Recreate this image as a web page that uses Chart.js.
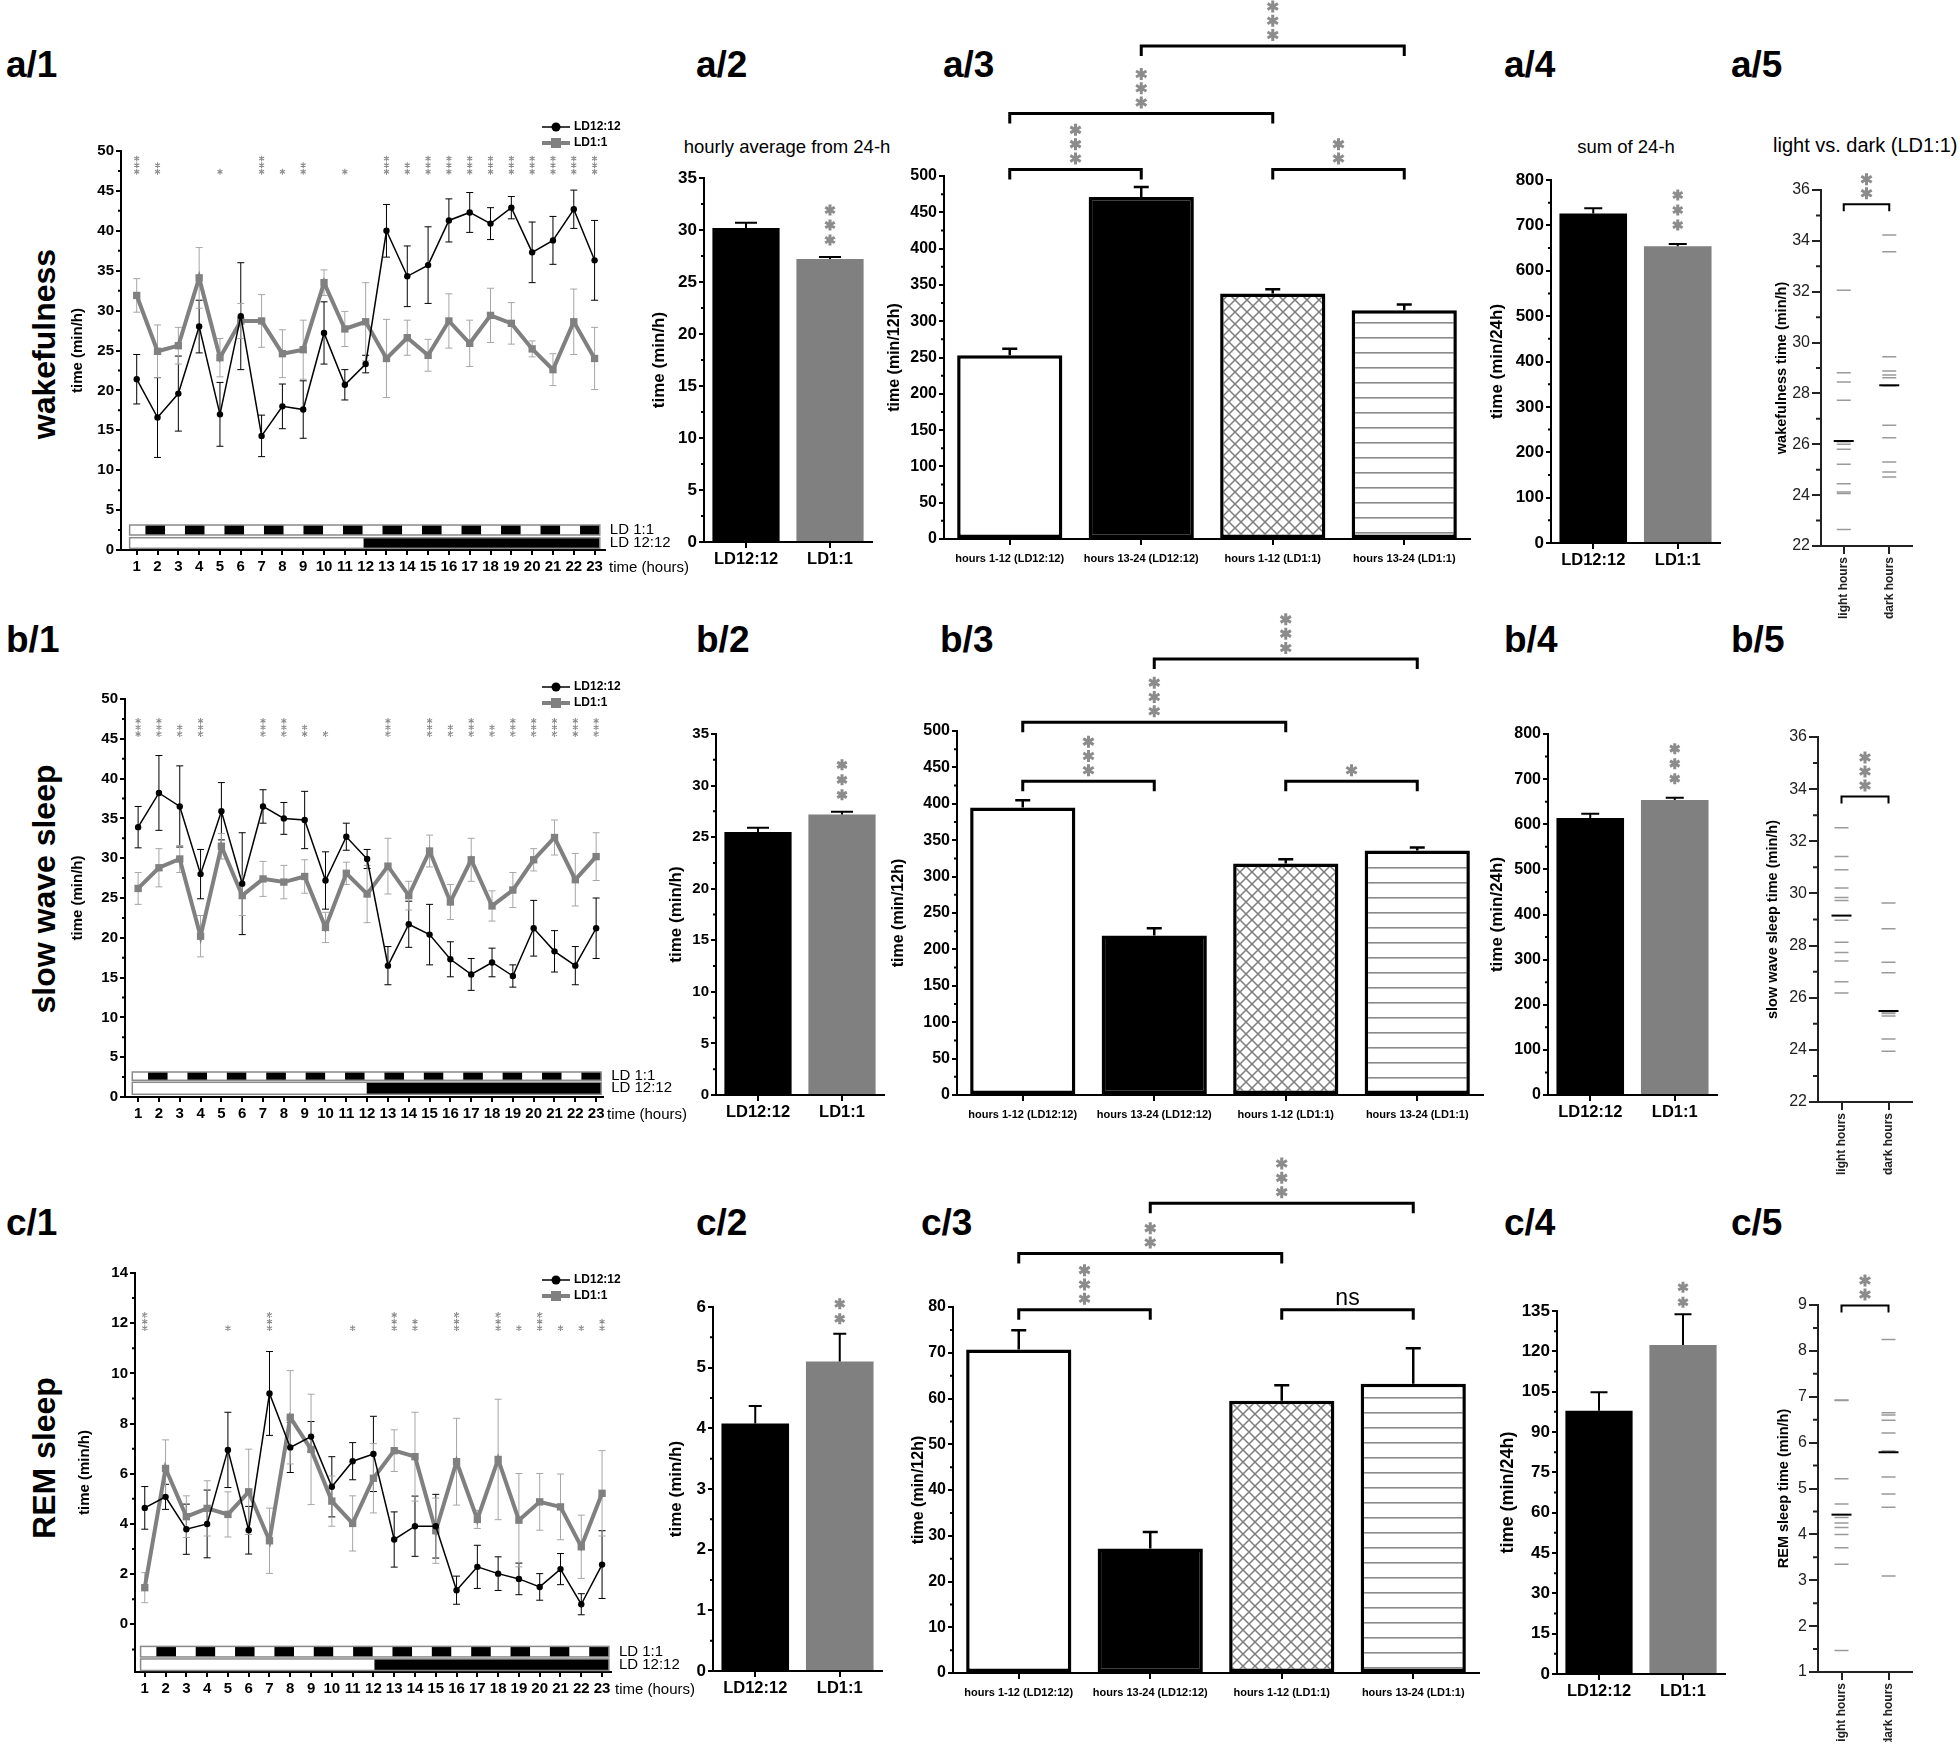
<!DOCTYPE html>
<html>
<head>
<meta charset="utf-8">
<title>Sleep-wake under LD12:12 and LD1:1</title>
<script src="https://cdn.jsdelivr.net/npm/chart.js@4.4.1/dist/chart.umd.min.js"></script>
<style>
  body { margin: 0; width: 1960px; height: 1745px; background: #fff; position: relative; overflow: hidden;
         font-family: 'Liberation Sans', Arial, sans-serif; }
  canvas { position: absolute; }
  .pl { position: absolute; font-weight: bold; font-size: 37px; line-height: 37px; white-space: nowrap; }
  .rl { position: absolute; font-weight: bold; font-size: 32px; line-height: 32px; white-space: nowrap;
        transform: translate(-50%, -50%) rotate(-90deg); }
  .tt { position: absolute; font-size: 18.5px; line-height: 18.5px; white-space: nowrap; }
</style>
</head>
<body>
<div class="pl" style="left:6px;top:46px">a/1</div>
<div class="pl" style="left:696px;top:46px">a/2</div>
<div class="pl" style="left:943px;top:46px">a/3</div>
<div class="pl" style="left:1504px;top:46px">a/4</div>
<div class="pl" style="left:1731px;top:46px">a/5</div>
<div class="pl" style="left:6px;top:621px">b/1</div>
<div class="pl" style="left:696px;top:621px">b/2</div>
<div class="pl" style="left:940px;top:621px">b/3</div>
<div class="pl" style="left:1504px;top:621px">b/4</div>
<div class="pl" style="left:1731px;top:621px">b/5</div>
<div class="pl" style="left:6px;top:1204px">c/1</div>
<div class="pl" style="left:696px;top:1204px">c/2</div>
<div class="pl" style="left:921px;top:1204px">c/3</div>
<div class="pl" style="left:1504px;top:1204px">c/4</div>
<div class="pl" style="left:1731px;top:1204px">c/5</div>

<div class="rl" style="left:44px;top:344px">wakefulness</div>
<div class="rl" style="left:44px;top:889px">slow wave sleep</div>
<div class="rl" style="left:44px;top:1458px">REM sleep</div>

<div class="tt" style="left:787px;top:138px;transform:translateX(-50%)">hourly average from 24-h</div>
<div class="tt" style="left:1626px;top:138px;transform:translateX(-50%)">sum of 24-h</div>
<div class="tt" style="left:1773px;top:136px;font-size:20px">light vs. dark (LD1:1)</div>

<script>
// ---------- data ----------
const hours = [1, 2, 3, 4, 5, 6, 7, 8, 9, 10, 11, 12, 13, 14, 15, 16, 17, 18, 19, 20, 21, 22, 23];
const groups2 = ['LD12:12', 'LD1:1'];
const groups4 = ['hours 1-12 (LD12:12)', 'hours 13-24 (LD12:12)', 'hours 1-12 (LD1:1)', 'hours 13-24 (LD1:1)'];
const dotCats = ['light hours', 'dark hours'];
const remTicks = [0, 2, 4, 6, 8, 10, 12, 14];

// wakefulness, hourly
const wakeLD12 = [21.4, 16.6, 19.6, 28.0, 17.0, 29.3, 14.3, 18.0, 17.6, 27.2, 20.7, 23.3, 40.0, 34.3, 35.7, 41.3, 42.3, 40.9, 42.9, 37.3, 38.8, 42.7, 36.3];
const wakeLD12Err = [3.1, 5.0, 4.7, 3.3, 4.0, 6.7, 2.6, 2.8, 3.6, 3.9, 1.9, 1.1, 3.3, 3.8, 4.8, 2.7, 2.5, 2.0, 1.4, 3.8, 3.0, 2.4, 5.0];
const wakeLD1 = [31.9, 24.9, 25.6, 34.1, 24.1, 28.7, 28.7, 24.6, 25.1, 33.5, 27.7, 28.6, 24.0, 26.6, 24.4, 28.7, 25.9, 29.4, 28.4, 25.2, 22.6, 28.6, 24.0];
const wakeLD1Err = [2.1, 3.3, 2.3, 3.8, 2.4, 2.2, 3.3, 3.0, 3.7, 1.6, 2.2, 4.9, 4.9, 2.2, 2.0, 3.4, 2.9, 3.4, 2.6, 1.0, 2.0, 4.1, 3.9];
const wakeSig = ['***', '**', '', '', '*', '', '***', '*', '**', '', '*', '', '***', '**', '***', '***', '***', '***', '***', '***', '***', '***', '***'];

// slow wave sleep, hourly
const swsLD12 = [33.9, 38.2, 36.5, 28.0, 35.9, 26.8, 36.5, 35.0, 34.8, 27.2, 32.7, 29.9, 16.5, 21.7, 20.4, 17.3, 15.4, 16.9, 15.2, 21.2, 18.3, 16.5, 21.2];
const swsLD12Err = [2.6, 4.7, 5.1, 3.1, 3.6, 6.4, 2.1, 2.0, 3.6, 3.6, 1.7, 1.2, 2.4, 2.9, 3.8, 2.2, 2.0, 1.8, 1.4, 3.5, 2.6, 2.4, 3.8];
const swsLD1 = [26.2, 28.8, 29.9, 20.2, 31.5, 25.3, 27.4, 27.0, 27.7, 21.3, 28.1, 25.5, 29.0, 25.3, 30.9, 24.5, 29.8, 24.0, 26.0, 29.8, 32.6, 27.3, 30.2];
const swsLD1Err = [2.0, 2.4, 1.7, 2.6, 1.6, 2.5, 2.2, 2.1, 2.1, 1.9, 1.4, 3.6, 3.5, 1.8, 2.0, 2.2, 2.7, 1.9, 2.2, 1.4, 2.2, 3.3, 3.0];
const swsSig = ['***', '***', '**', '***', '', '', '***', '***', '**', '*', '', '', '***', '', '***', '**', '***', '**', '***', '***', '***', '***', '***'];

// REM sleep, hourly
const remLD12 = [4.64, 5.08, 3.79, 4.0, 6.95, 3.75, 9.2, 7.05, 7.48, 5.48, 6.5, 6.79, 3.38, 3.91, 3.91, 1.36, 2.29, 2.02, 1.81, 1.49, 2.2, 0.8, 2.38];
const remLD12Err = [0.85, 0.5, 1.0, 1.35, 1.5, 0.95, 1.67, 1.0, 0.6, 1.2, 0.74, 1.5, 1.1, 1.2, 1.27, 0.56, 0.86, 0.67, 0.63, 0.53, 0.62, 0.42, 1.35];
const remLD1 = [1.46, 6.21, 4.29, 4.62, 4.38, 5.28, 3.33, 8.25, 6.97, 4.91, 4.02, 5.82, 6.92, 6.68, 3.73, 6.48, 4.18, 6.57, 4.15, 4.88, 4.68, 3.09, 5.22];
const remLD1Err = [0.6, 1.14, 0.83, 1.1, 0.9, 1.7, 1.3, 1.86, 2.2, 1.0, 1.1, 1.38, 0.83, 1.77, 1.3, 1.73, 0.36, 2.4, 1.86, 1.13, 1.31, 1.26, 1.7];
const remSig = ['***', '', '', '', '*', '', '***', '', '', '', '*', '', '***', '**', '', '***', '', '***', '*', '***', '*', '*', '**'];

// hourly averages, 12-h halves, 24-h sums
const wakeHourly = [30.2, 27.2], wakeHourlyErr = [0.5, 0.2];
const wakeHalf = [253, 471, 338, 315], wakeHalfErr = [9, 14, 6, 8];
const wakeSum = [726, 654], wakeSumErr = [12, 5];
const swsHourly = [25.5, 27.2], swsHourlyErr = [0.4, 0.25];
const swsHalf = [395, 219, 318, 336], swsHalfErr = [10, 10, 6, 4];
const swsSum = [614, 654], swsSumErr = [9, 5];
const remHourly = [4.08, 5.1], remHourlyErr = [0.29, 0.46];
const remHalf = [70.7, 27.2, 59.5, 63.2], remHalfErr = [4.2, 3.6, 3.4, 7.8];
const remSum = [97.9, 122.4], remSumErr = [6.9, 11.4];

// significance brackets: [from, to, level, label]
const wakeBrackets = [[0, 1, 509, '***'], [2, 3, 509, '**'], [0, 2, 586, '***'], [1, 3, 679, '***']];
const swsBrackets = [[0, 1, 431, '***'], [2, 3, 431, '*'], [0, 2, 512, '***'], [1, 3, 599, '***']];
const remBrackets = [[0, 1, 79.4, '***'], [2, 3, 79.4, 'ns'], [0, 2, 91.7, '**'], [1, 3, 102.7, '***']];

// LD1:1 individual hours, light vs dark
const wakeLight = [32.06, 28.81, 28.45, 27.73, 26.1, 26.0, 25.8, 25.21, 24.45, 24.12, 24.06, 22.65];
const wakeDark = [34.23, 33.57, 29.44, 28.88, 28.72, 28.62, 28.3, 26.75, 26.26, 25.3, 24.91, 24.71];
const wakeMeans = [26.13, 28.32];
const swsLight = [32.52, 31.42, 30.91, 30.21, 29.84, 29.73, 28.97, 28.13, 27.73, 27.41, 26.61, 26.18];
const swsDark = [29.63, 28.65, 27.36, 26.96, 25.45, 25.39, 25.3, 24.42, 23.95];
const swsMeans = [29.15, 25.49];
const remLight = [6.93, 6.92, 5.21, 4.66, 4.37, 4.25, 4.15, 4.0, 3.71, 3.35, 1.47];
const remDark = [8.25, 6.65, 6.6, 6.49, 6.21, 5.82, 5.25, 4.88, 4.59, 3.09];
const remMeans = [4.43, 5.79];

// ---------- setup ----------
const FONT = "'Liberation Sans', Arial, sans-serif";
const GREY = '#808080';
const STAR = '#8c8c8c';
Chart.defaults.font.family = FONT;
Chart.defaults.color = '#000';
Chart.defaults.animation = false;
Chart.defaults.responsive = false;
Chart.defaults.plugins.legend.display = false;
Chart.defaults.plugins.tooltip.enabled = false;

function star(ctx, x, y, r, lw) {
  ctx.beginPath();
  for (let k = 0; k < 3; k++) {
    const a = Math.PI / 2 + k * Math.PI / 3;
    ctx.moveTo(x - r * Math.cos(a), y - r * Math.sin(a));
    ctx.lineTo(x + r * Math.cos(a), y + r * Math.sin(a));
  }
  ctx.lineWidth = lw;
  ctx.stroke();
}
function stars(ctx, x, y, n, s) {
  ctx.save();
  ctx.strokeStyle = STAR;
  for (let i = 0; i < n; i++) star(ctx, x, y - i * s.pitch, s.r, s.lw);
  ctx.restore();
}

// minor ticks halfway between the major ones on the y axis
const minorTicks = {
  id: 'minorTicks',
  afterDraw(chart, args, o) {
    if (!o.len) return;
    const s = chart.scales.y, ctx = chart.ctx;
    const v = s.ticks.map(t => t.value);
    const step = v[1] - v[0];
    ctx.save();
    ctx.strokeStyle = o.color || '#000';
    ctx.lineWidth = 2;
    ctx.beginPath();
    for (let m = v[0] - step / 2; m <= s.max + 1e-9; m += step) {
      if (m < s.min - 1e-9) continue;
      const p = s.getPixelForValue(m);
      ctx.moveTo(s.right, p);
      ctx.lineTo(s.right - o.len, p);
    }
    ctx.stroke();
    ctx.restore();
  }
};

function drawErr(chart, above) {
  const ctx = chart.ctx, ys = chart.scales.y;
  chart.data.datasets.forEach((ds, i) => {
    if (!ds.errors || !!ds.errAbove !== above) return;
    const meta = chart.getDatasetMeta(i);
    ctx.save();
    ctx.strokeStyle = ds.errColor;
    ctx.lineWidth = ds.errWidth;
    ctx.beginPath();
    meta.data.forEach((el, j) => {
      const d = ds.data[j];
      const v = typeof d === 'object' ? d.y : d;
      const e = ds.errors[j], c = ds.capWidth / 2;
      const top = ys.getPixelForValue(v + e);
      const bot = ys.getPixelForValue(ds.errUpOnly ? v : v - e);
      ctx.moveTo(el.x, bot); ctx.lineTo(el.x, top);
      ctx.moveTo(el.x - c, top); ctx.lineTo(el.x + c, top);
      if (!ds.errUpOnly) { ctx.moveTo(el.x - c, bot); ctx.lineTo(el.x + c, bot); }
    });
    ctx.stroke();
    ctx.restore();
  });
}
const errorBars = {
  id: 'errorBars',
  beforeDatasetsDraw(chart) { drawErr(chart, false); },
  afterDatasetsDraw(chart) { drawErr(chart, true); }
};

// stars per hour, light/dark schedule bars, legend
const hourDeco = {
  id: 'hourDeco',
  afterDraw(chart, args, o) {
    if (!o.ld) return;
    const ctx = chart.ctx, xs = chart.scales.x, ys = chart.scales.y, bx = chart.canvas.$box;
    const X = v => xs.getPixelForValue(v), Y = v => ys.getPixelForValue(v);
    ctx.save();
    o.sig.forEach((s, i) => {
      if (s) stars(ctx, X(hours[i]), Y(o.sigY), s.length, { r: 2.9, lw: 1.1, pitch: 6.6 });
    });
    const [s0, s1, split] = o.ld;
    const w = (s1 - s0) / 23.8;
    const t1 = Y(o.row1[0]), b1 = Y(o.row1[1]), t2 = Y(o.row2[0]), b2 = Y(o.row2[1]);
    for (let k = 0; k < 24; k++) {
      const a = k === 0 ? s0 : s0 + (k - 0.2) * w, e = s0 + (k + 0.8) * w;
      ctx.fillStyle = k % 2 ? '#000' : '#fff';
      ctx.fillRect(X(a), t1, X(e) - X(a), b1 - t1);
    }
    ctx.fillStyle = '#fff'; ctx.fillRect(X(s0), t2, X(split) - X(s0), b2 - t2);
    ctx.fillStyle = '#000'; ctx.fillRect(X(split), t2, X(s1) - X(split), b2 - t2);
    ctx.strokeStyle = '#8a8a8a'; ctx.lineWidth = 1.5;
    ctx.strokeRect(X(s0), t1, X(s1) - X(s0), b1 - t1);
    ctx.strokeRect(X(s0), t2, X(s1) - X(s0), b2 - t2);
    ctx.fillStyle = '#000'; ctx.font = '15px ' + FONT;
    ctx.textBaseline = 'middle'; ctx.textAlign = 'left';
    ctx.fillText('LD 1:1', X(s1) + 10, (t1 + b1) / 2);
    ctx.fillText('LD 12:12', X(s1) + 10, (t2 + b2) / 2);
    ctx.fillText('time (hours)', xs.right + 4, xs.top + o.timeDy);
    const lg = o.legend, lx = lg.x - bx.x;
    [[lg.y1, '#000', 1.5, 'c', 'LD12:12'], [lg.y2, GREY, 4, 's', 'LD1:1']].forEach(([py, col, lw, m, txt]) => {
      const y = py - bx.y;
      ctx.strokeStyle = col; ctx.lineWidth = lw;
      ctx.beginPath(); ctx.moveTo(lx, y); ctx.lineTo(lx + 28, y); ctx.stroke();
      ctx.fillStyle = col;
      if (m === 'c') { ctx.beginPath(); ctx.arc(lx + 14, y, 4.5, 0, Math.PI * 2); ctx.fill(); }
      else ctx.fillRect(lx + 9, y - 5, 10, 10);
      ctx.fillStyle = '#000'; ctx.font = 'bold 12px ' + FONT;
      ctx.fillText(txt, lx + 32, y);
    });
    ctx.restore();
  }
};

// stars over bars and comparison brackets
const brackets = {
  id: 'brackets',
  afterDraw(chart, args, o) {
    if (!o.star) return;
    const ctx = chart.ctx, xs = chart.scales.x, ys = chart.scales.y;
    ctx.save();
    (o.sig || []).forEach(([i, lab]) => {
      const ds = chart.data.datasets[0];
      const el = chart.getDatasetMeta(0).data[i];
      const y = ys.getPixelForValue(ds.data[i] + ds.errors[i]) - o.gap;
      stars(ctx, el.x, y, lab.length, o.star);
    });
    (o.items || []).forEach(([i, j, lvl, lab]) => {
      const x1 = xs.getPixelForValue(i), x2 = xs.getPixelForValue(j), y = ys.getPixelForValue(lvl);
      ctx.strokeStyle = '#000'; ctx.lineWidth = o.lw;
      ctx.beginPath();
      ctx.moveTo(x1, y + o.drop); ctx.lineTo(x1, y); ctx.lineTo(x2, y); ctx.lineTo(x2, y + o.drop);
      ctx.stroke();
      const cx = (x1 + x2) / 2;
      if (lab === 'ns') {
        ctx.fillStyle = '#000'; ctx.font = '23px ' + FONT;
        ctx.textAlign = 'center'; ctx.textBaseline = 'alphabetic';
        ctx.fillText('ns', cx, y - 5);
      } else {
        stars(ctx, cx, y - o.gap, lab.length, o.star);
      }
    });
    ctx.restore();
  }
};
Chart.register(minorTicks, errorBars, hourDeco, brackets);

function makePattern(w, h, draw) {
  const c = document.createElement('canvas');
  c.width = w; c.height = h;
  const g = c.getContext('2d');
  g.fillStyle = '#fff'; g.fillRect(0, 0, w, h);
  draw(g);
  return g.createPattern(c, 'repeat');
}
const crossFill = makePattern(12, 12, g => {
  g.strokeStyle = '#7d7d7d'; g.lineWidth = 1.5;
  g.beginPath(); g.moveTo(-1, -1); g.lineTo(13, 13); g.moveTo(13, -1); g.lineTo(-1, 13); g.stroke();
});
const stripeFill = makePattern(8, 15, g => {
  g.fillStyle = '#8a8a8a'; g.fillRect(0, 7, 8, 1.6);
});

// place a chart so that its plot area lands on `area` (page pixels)
function makeChart(box, area, yw, xh, config) {
  const cv = document.createElement('canvas');
  cv.width = box.w; cv.height = box.h;
  cv.style.left = box.x + 'px'; cv.style.top = box.y + 'px';
  cv.$box = box;
  document.body.appendChild(cv);
  config.options.layout = { padding: {
    left: area.l - box.x - yw,
    top: area.t - box.y,
    right: box.x + box.w - area.r,
    bottom: box.y + box.h - area.b - xh
  } };
  config.options.scales.x.afterFit = s => { s.height = xh; };
  config.options.scales.y.afterFit = s => { s.width = yw; };
  return new Chart(cv, config);
}

function yAxis(min, max, step, title, tSize, kSize, opt = {}) {
  const col = opt.color || '#000';
  return {
    type: 'linear', min, max,
    ticks: { stepSize: step, color: col, padding: opt.pad ?? 2,
             font: { size: kSize, weight: opt.normal ? 'normal' : 'bold' } },
    grid: { drawOnChartArea: false, tickLength: opt.tick || 5, color: col, lineWidth: 2 },
    border: { color: col, width: 2 },
    title: { display: true, text: title, color: '#000', font: { size: tSize, weight: 'bold' },
             padding: { top: 4, bottom: 4 } }
  };
}
function xCat(size, pad, opt = {}) {
  const col = opt.color || '#000';
  return {
    type: 'category', offset: true,
    ticks: { color: col, font: { size, weight: 'bold' }, padding: pad, autoSkip: false,
             maxRotation: opt.rot || 0, minRotation: opt.rot || 0 },
    grid: { offset: false, drawOnChartArea: false, tickLength: opt.tick || 6, color: col, lineWidth: 2 },
    border: { color: col, width: 2 }
  };
}

function hourChart(box, area, yw, d) {
  const ds = (vals, errs, style) => Object.assign({
    data: hours.map((h, i) => ({ x: h, y: vals[i] })), errors: errs, tension: 0 }, style);
  return makeChart(box, area, yw, 40, {
    type: 'line',
    data: { datasets: [
      ds(d.ld12, d.ld12Err, { label: 'LD12:12', borderColor: '#000', borderWidth: 1.5, pointStyle: 'circle',
        pointRadius: 3.2, pointBackgroundColor: '#000', pointBorderColor: '#000', pointBorderWidth: 0,
        errColor: '#000', errWidth: 1, capWidth: 7 }),
      ds(d.ld1, d.ld1Err, { label: 'LD1:1', borderColor: GREY, borderWidth: 4, pointStyle: 'rect',
        pointRadius: 5.2, pointBackgroundColor: GREY, pointBorderColor: GREY, pointBorderWidth: 0,
        errColor: '#a6a6a6', errWidth: 1, capWidth: 7 })
    ] },
    options: {
      scales: {
        x: { type: 'linear', min: d.xr[0], max: d.xr[1],
             afterBuildTicks: s => { s.ticks = hours.map(v => ({ value: v })); },
             ticks: { font: { size: 15, weight: 'bold' }, color: '#000', padding: 3, autoSkip: false, maxRotation: 0 },
             grid: { drawOnChartArea: false, tickLength: 5, color: '#000', lineWidth: 2 },
             border: { color: '#000', width: 2 } },
        y: d.y
      },
      plugins: { minorTicks: { len: 3 }, hourDeco: d.deco }
    }
  });
}

function pairChart(box, area, yw, d) {
  return makeChart(box, area, yw, 40, {
    type: 'bar',
    data: { labels: groups2, datasets: [{ data: d.vals, errors: d.errs, errAbove: true, errUpOnly: true,
      errColor: '#000', errWidth: 2, capWidth: d.cap, backgroundColor: ['#000', GREY], borderWidth: 0,
      barPercentage: 0.8, categoryPercentage: 1 }] },
    options: {
      scales: { x: xCat(16.5, 2), y: d.y },
      plugins: { minorTicks: { len: 3 }, brackets: { sig: d.sig, gap: d.gap, star: { r: 5.5, lw: 3, pitch: 15 } } }
    }
  });
}

function halfChart(box, area, yw, d) {
  return makeChart(box, area, yw, 40, {
    type: 'bar',
    data: { labels: groups4, datasets: [{ data: d.vals, errors: d.errs, errAbove: true, errUpOnly: true,
      errColor: '#000', errWidth: 2.5, capWidth: 15,
      backgroundColor: ['#fff', '#000', crossFill, stripeFill], borderColor: '#000', borderWidth: 3.5,
      borderSkipped: false, barPercentage: 0.8, categoryPercentage: 1 }] },
    options: {
      scales: { x: xCat(11, 7), y: d.y },
      plugins: { minorTicks: { len: 3 },
                 brackets: { items: d.br, drop: 10, lw: 3, gap: 11, star: { r: 6, lw: 3, pitch: 14.3 } } }
    }
  });
}

function dotChart(box, area, yw, xh, d) {
  const grey = { showLine: false, pointStyle: 'line', pointRadius: 7, pointBorderColor: '#9a9a9a', pointBorderWidth: 1.5 };
  return makeChart(box, area, yw, xh, {
    type: 'line',
    data: { labels: dotCats, datasets: [
      { data: d.means.map((v, i) => ({ x: dotCats[i], y: v })), showLine: false, pointStyle: 'line',
        pointRadius: 10, pointBorderColor: '#000', pointBorderWidth: 2 },
      Object.assign({ data: d.light.map(v => ({ x: dotCats[0], y: v })) }, grey),
      Object.assign({ data: d.dark.map(v => ({ x: dotCats[1], y: v })) }, grey)
    ] },
    options: {
      scales: { x: xCat(12, 3, { rot: 90, tick: 8, color: '#222' }), y: d.y },
      plugins: { minorTicks: { len: 5, color: '#222' },
                 brackets: { items: [d.br], drop: 7, lw: 2, gap: 11, star: { r: 6, lw: 3, pitch: 14 } } }
    }
  });
}

const dotY = (min, max, title) => yAxis(min, max, max - min > 10 ? 2 : 1, title, 14.5, 16,
  { normal: true, color: '#222', tick: 9, pad: 2 });

// ---------- row a: wakefulness ----------
hourChart({ x: 60, y: 110, w: 640, h: 480 }, { l: 121, t: 151, r: 605, b: 550 }, 56, {
  ld12: wakeLD12, ld12Err: wakeLD12Err, ld1: wakeLD1, ld1Err: wakeLD1Err, xr: [0.245, 23.5],
  y: yAxis(0, 50, 5, 'time (min/h)', 15, 15),
  deco: { sig: wakeSig, sigY: 47.4, ld: [0.66, 23.25, 11.9], row1: [3.13, 1.88], row2: [1.54, 0.21],
          timeDy: 18, legend: { x: 542, y1: 127, y2: 143 } }
});
pairChart({ x: 640, y: 130, w: 250, h: 460 }, { l: 704, t: 178, r: 872, b: 542 }, 59, {
  vals: wakeHourly, errs: wakeHourlyErr, cap: 22, sig: [[1, '***']], gap: 17,
  y: yAxis(0, 35, 5, 'time (min/h)', 17, 17)
});
halfChart({ x: 875, y: 0, w: 600, h: 590 }, { l: 944, t: 176, r: 1470, b: 539 }, 63, {
  vals: wakeHalf, errs: wakeHalfErr, br: wakeBrackets,
  y: yAxis(0, 500, 50, 'time (min/12h)', 16, 16)
});
pairChart({ x: 1475, y: 130, w: 260, h: 460 }, { l: 1551, t: 180, r: 1720, b: 543 }, 68, {
  vals: wakeSum, errs: wakeSumErr, cap: 18, sig: [[1, '***']], gap: 19,
  y: yAxis(0, 800, 100, 'time (min/24h)', 17, 17)
});
dotChart({ x: 1765, y: 160, w: 195, h: 470 }, { l: 1821, t: 190, r: 1912, b: 546 }, 52, 75, {
  light: wakeLight, dark: wakeDark, means: wakeMeans, br: [0, 1, 35.44, '**'],
  y: dotY(22, 36, 'wakefulness time (min/h)')
});

// ---------- row b: slow wave sleep ----------
hourChart({ x: 60, y: 670, w: 640, h: 470 }, { l: 125, t: 699, r: 603, b: 1097 }, 60, {
  ld12: swsLD12, ld12Err: swsLD12Err, ld1: swsLD1, ld1Err: swsLD1Err, xr: [0.37, 23.33],
  y: yAxis(0, 50, 5, 'time (min/h)', 15, 15),
  deco: { sig: swsSig, sigY: 45.6, ld: [0.72, 23.24, 11.98], row1: [3.14, 2.10], row2: [1.85, 0.34],
          timeDy: 18, legend: { x: 542, y1: 687, y2: 703 } }
});
pairChart({ x: 655, y: 700, w: 245, h: 440 }, { l: 716, t: 734, r: 884, b: 1095 }, 54, {
  vals: swsHourly, errs: swsHourlyErr, cap: 22, sig: [[1, '***']], gap: 17,
  y: yAxis(0, 35, 5, 'time (min/h)', 17, 15)
});
halfChart({ x: 880, y: 560, w: 610, h: 580 }, { l: 957, t: 731, r: 1483, b: 1095 }, 72, {
  vals: swsHalf, errs: swsHalfErr, br: swsBrackets,
  y: yAxis(0, 500, 50, 'time (min/12h)', 16, 16)
});
pairChart({ x: 1478, y: 700, w: 252, h: 440 }, { l: 1548, t: 734, r: 1717, b: 1095 }, 65, {
  vals: swsSum, errs: swsSumErr, cap: 18, sig: [[1, '***']], gap: 19,
  y: yAxis(0, 800, 100, 'time (min/24h)', 17, 16)
});
dotChart({ x: 1755, y: 700, w: 205, h: 480 }, { l: 1818, t: 737, r: 1912, b: 1102 }, 58, 75, {
  light: swsLight, dark: swsDark, means: swsMeans, br: [0, 1, 33.72, '***'],
  y: dotY(22, 36, 'slow wave sleep time (min/h)')
});

// ---------- row c: REM sleep ----------
const remY = yAxis(-1.9, 14, 2, 'time (min/h)', 15, 15);
remY.afterBuildTicks = s => { s.ticks = remTicks.map(v => ({ value: v })); };
hourChart({ x: 60, y: 1250, w: 640, h: 480 }, { l: 135, t: 1273, r: 611, b: 1672 }, 63, {
  ld12: remLD12, ld12Err: remLD12Err, ld1: remLD1, ld1Err: remLD1Err, xr: [0.53, 23.43],
  y: remY,
  deco: { sig: remSig, sigY: 11.8, ld: [0.80, 23.33, 12.05], row1: [-0.88, -1.30], row2: [-1.38, -1.84],
          timeDy: 18, legend: { x: 542, y1: 1280, y2: 1296 } }
});
pairChart({ x: 650, y: 1270, w: 245, h: 450 }, { l: 713, t: 1307, r: 882, b: 1671 }, 51, {
  vals: remHourly, errs: remHourlyErr, cap: 13, sig: [[1, '**']], gap: 15,
  y: yAxis(0, 6, 1, 'time (min/h)', 17, 17)
});
halfChart({ x: 895, y: 1150, w: 600, h: 570 }, { l: 953, t: 1307, r: 1479, b: 1673 }, 48, {
  vals: remHalf, errs: remHalfErr, br: remBrackets,
  y: yAxis(0, 80, 10, 'time (min/12h)', 16, 16)
});
pairChart({ x: 1485, y: 1270, w: 250, h: 450 }, { l: 1557, t: 1311, r: 1725, b: 1674 }, 64, {
  vals: remSum, errs: remSumErr, cap: 17, sig: [[1, '**']], gap: 12,
  y: yAxis(0, 135, 15, 'time (min/24h)', 18, 17)
});
dotChart({ x: 1760, y: 1270, w: 200, h: 475 }, { l: 1818, t: 1305, r: 1912, b: 1672 }, 47, 70, {
  light: remLight, dark: remDark, means: remMeans, br: [0, 1, 8.99, '**'],
  y: dotY(1, 9, 'REM sleep time (min/h)')
});
</script>
</body>
</html>
